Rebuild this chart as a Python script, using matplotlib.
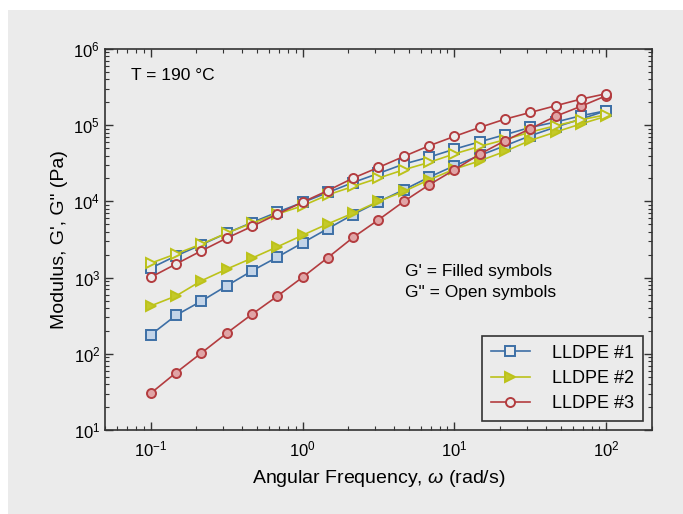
import matplotlib
matplotlib.use("Agg")
import matplotlib.pyplot as plt
from matplotlib.patches import Rectangle
from matplotlib.lines import Line2D

plt.rcParams['font.family'] = ['Liberation Sans', 'DejaVu Sans']
plt.rcParams['mathtext.fontset'] = 'custom'
plt.rcParams['mathtext.rm'] = 'Liberation Sans'
plt.rcParams['mathtext.it'] = 'Liberation Sans:italic'

freq = [0.1, 0.147, 0.215, 0.316, 0.464, 0.681, 1.0, 1.47, 2.15, 3.16, 4.64,
        6.81, 10.0, 14.7, 21.5, 31.6, 46.4, 68.1, 100.0]

g1_storage = [177, 321, 490, 778, 1225, 1853, 2858, 4400, 6730, 9880, 14200,
              20800, 29400, 40100, 53700, 72700, 94500, 120400, 155000]
g1_loss = [1330, 1930, 2690, 3830, 5280, 7220, 9680, 13100, 17700, 23300, 30900,
           38100, 48500, 60600, 75000, 93600, 110000, 133000, 155000]
g2_storage = [425, 575, 906, 1290, 1800, 2530, 3600, 5080, 7010, 10000, 13500,
              19200, 26500, 34100, 45300, 63100, 81300, 104000, 131000]
g2_loss = [1545, 2050, 2750, 3830, 5180, 6800, 8750, 12200, 15700, 20200, 26000,
           32500, 42100, 52700, 64400, 81300, 98400, 118000, 137000]
g3_storage = [30.3, 56.6, 102, 186, 330, 570, 1010, 1835, 3360, 5730, 9980,
              16500, 26000, 41800, 62500, 89900, 131000, 177000, 244000]
g3_loss = [1010, 1510, 2240, 3290, 4690, 6800, 9770, 13900, 20200, 27900, 38900,
           53700, 71300, 93600, 120000, 147000, 180000, 220000, 259000]

labels = ['LLDPE #1', 'LLDPE #2', 'LLDPE #3']

bg = '#ebebeb'
fig = plt.figure(figsize=(6.83, 5.14), dpi=100, facecolor='white')
fig.patches.append(Rectangle((8 / 683, 0), 1, (514 - 10) / 514,
                             transform=fig.transFigure, facecolor=bg,
                             edgecolor='none', zorder=-10))
ax = fig.add_axes([105 / 683, 1 - 430 / 514, 547 / 683, 381 / 514])
ax.set_facecolor(bg)

series = [
    (g1_storage, g1_loss, 's', '#3d6fa6', '#c3d4e8', bg),
    (g2_storage, g2_loss, '>', '#bcc21a', '#c4c928', '#c4c928'),
    (g3_storage, g3_loss, 'o', '#b33c3f', '#e0a4a6', bg),
]
ms = 6.5
for st, lo, mk, c, fill, legfill in series:
    ax.plot(freq, st, color=c, lw=1.2, marker=mk, ms=ms, mfc=fill,
            mec=c, mew=1.4)
    ax.plot(freq, lo, color=c, lw=1.2, marker=mk, ms=ms, mfc=bg,
            mec=c, mew=1.4)

ax.set_xscale('log')
ax.set_yscale('log')
ax.set_xlim(0.05, 200)
ax.set_ylim(10, 1e6)

for s in ax.spines.values():
    s.set_color('#333333')
    s.set_linewidth(1.2)
ax.tick_params(which='both', direction='in', top=True, right=True,
               colors='#333333', labelcolor='black', labelsize=12)
ax.tick_params(which='major', length=6, width=1)
ax.tick_params(which='minor', length=3, width=0.8)
ax.tick_params(axis='x', pad=7)

ax.set_xlabel(r'Angular Frequency, $\omega$ (rad/s)', fontsize=14, labelpad=6)
ax.set_ylabel('Modulus, G\', G" (Pa)', fontsize=14, labelpad=4)

ax.text((131 - 105) / 547, (430 - 75) / 381, 'T = 190 °C', transform=ax.transAxes,
        fontsize=12.5, va='center', ha='left')
ax.text((405 - 105) / 547, (430 - 271.5) / 381, "G' = Filled symbols",
        transform=ax.transAxes, fontsize=12.5, va='center', ha='left')
ax.text((405 - 105) / 547, (430 - 292.5) / 381, 'G" = Open symbols',
        transform=ax.transAxes, fontsize=12.5, va='center', ha='left')

handles = []
for (st, lo, mk, c, fill, legfill), lab in zip(series, labels):
    handles.append(Line2D([], [], color=c, lw=1.2, marker=mk, ms=ms,
                          mfc=legfill, mec=c, mew=1.4, label=lab))
leg = ax.legend(handles=handles, loc='lower right',
                bbox_to_anchor=(0.9835, 0.0236), borderaxespad=0,
                fontsize=13, frameon=True, fancybox=False, handlelength=2.2,
                labelspacing=0.45, borderpad=0.5, handletextpad=1.2)
leg.get_frame().set_facecolor(bg)
leg.get_frame().set_edgecolor('#333333')
leg.get_frame().set_linewidth(1.2)
leg.get_frame().set_alpha(1)

fig.savefig('out.png', dpi=100, facecolor='white')
